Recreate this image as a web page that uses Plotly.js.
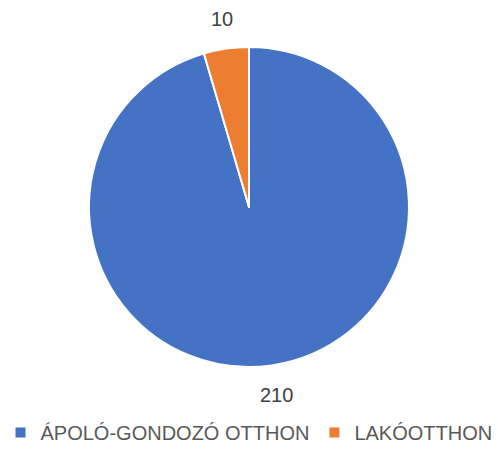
<!DOCTYPE html>
<html><head><meta charset="utf-8">
<script src="https://cdn.plot.ly/plotly-3.0.1.min.js"></script>
<style>html,body{margin:0;padding:0;background:#fff}#chart{width:498px;height:453px}</style>
</head><body><div id="chart"></div>
<script>
const labels = ["ÁPOLÓ-GONDOZÓ OTTHON", "LAKÓOTTHON"];
const values = [210, 10];
const colors = ["#4472C4", "#ED7D31"];

const W = 498, H = 453;
const domY = [0.1898, 0.8962];
const cx = W / 2, cy = H * (1 - (domY[0] + domY[1]) / 2);
const labelR = 190;

// data label positions derived from slice angles (clockwise from 12 o'clock)
const total = values.reduce((a, b) => a + b, 0);
let acc = 0;
const annotations = values.map((v, i) => {
  const mid = (acc + v / 2) / total * 2 * Math.PI;
  acc += v;
  const px = cx + labelR * Math.sin(mid);
  const py = cy - labelR * Math.cos(mid);
  return {
    x: px / W, y: 1 - py / H, xref: "paper", yref: "paper",
    text: String(v), showarrow: false, xanchor: "center", yanchor: "middle",
    font: {family: "Liberation Sans, Arial, sans-serif", size: 20, color: "#404040"}
  };
});

const trace = {
  type: "pie",
  labels: labels,
  values: values,
  sort: false,
  direction: "clockwise",
  rotation: 0,
  marker: {colors: colors, line: {color: "#ffffff", width: 2}},
  textinfo: "none",
  automargin: false,
  domain: {x: [0, 1], y: domY},
  hoverinfo: "label+value"
};
const layout = {
  width: W, height: H,
  margin: {l: 0, r: 0, t: 0, b: 0},
  paper_bgcolor: "#ffffff",
  showlegend: true,
  annotations: annotations,
  legend: {orientation: "h", x: 0.5, xanchor: "center", y: 0.002, yanchor: "bottom",
    font: {family: "Liberation Sans, Arial, sans-serif", size: 20, color: "#595959"},
    itemwidth: 30, traceorder: "normal"},
  font: {family: "Liberation Sans, Arial, sans-serif"}
};
Plotly.newPlot("chart", [trace], layout, {displayModeBar: false, staticPlot: true});
</script></body></html>
